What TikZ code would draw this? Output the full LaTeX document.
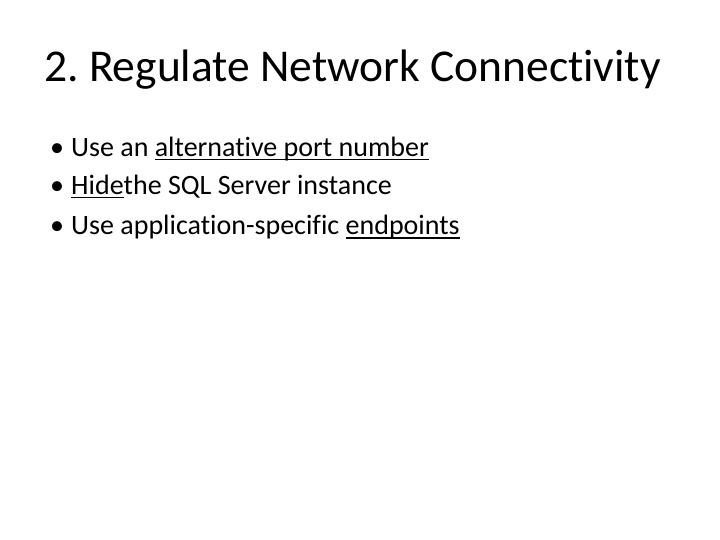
\documentclass[tikz,border=0pt]{standalone}
\usepackage{fontspec}
\setmainfont[Ligatures=NoCommon]{Carlito}
\newcommand\myul[1]{\setbox0\hbox{#1}\rlap{\rule[-3.5pt]{\wd0}{1.1pt}}\box0}
\begin{document}
\begin{tikzpicture}[x=1pt,y=1pt,
  bul/.style={anchor=base west,inner sep=0pt,font=\fontsize{28}{32}\selectfont\frenchspacing},
  ttl/.style={anchor=base west,inner sep=0pt,font=\fontsize{45.5}{50}\selectfont\frenchspacing}]
\useasboundingbox (0,0) rectangle (720,-540);
\node[ttl] (t) at (44,-82) {2. Regulate Network Connectivity};
\node[bul] (b1) at (50,-157) {•};
\node[bul] (l1) at (71,-157) {Use an \myul{alternative port number}};
\node[bul] (b2) at (50,-195) {•};
\node[bul] (l2) at (71,-195) {\myul{Hide} the SQL Server instance};
\node[bul] (b3) at (50,-235) {•};
\node[bul] (l3) at (71,-235) {Use application-specific \myul{endpoints}};
\end{tikzpicture}
\end{document}
